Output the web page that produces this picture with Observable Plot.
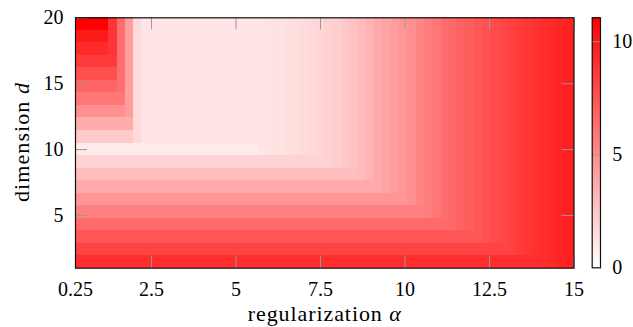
<!DOCTYPE html>
<html><head><meta charset="utf-8">
<script src="https://cdn.jsdelivr.net/npm/d3@7"></script>
<script src="https://cdn.jsdelivr.net/npm/@observablehq/plot@0.6"></script>
<style>
body{margin:0;background:#fff;}
#wrap{position:relative;width:633px;height:327px;}
#wrap svg{position:absolute;left:0;top:0;}
#wrap svg text, #wrap svg tspan{font-family:"Liberation Serif","Times New Roman",Tinos,"DejaVu Serif","Noto Serif",FreeSerif,serif !important;}
</style></head><body><div id="wrap"></div>
<script>
const alphas = [0.25,0.5,0.75,1,1.25,1.5,1.75,2,2.25,2.5,
 2.75,3,3.25,3.5,3.75,4,4.25,4.5,4.75,5,
 5.25,5.5,5.75,6,6.25,6.5,6.75,7,7.25,7.5,
 7.75,8,8.25,8.5,8.75,9,9.25,9.5,9.75,10,
 10.25,10.5,10.75,11,11.25,11.5,11.75,12,12.25,12.5,
 12.75,13,13.25,13.5,13.75,14,14.25,14.5,14.75,15];
const dims = [1,2,3,4,5,6,7,8,9,10,11,12,13,14,15,16,17,18,19,20];
// one row per dimension d (d = 1 first), one value per alpha
const values = [
[9.1,9.1,9.1,9.1,9.1,9.1,9.1,9.1,9.1,9.1, 9.1,9.1,9.1,9.1,9.1,9.1,9.1,9.1,9.1,9.1, 9.1,9.1,9.1,9.1,9.1,9.1,9.1,9.1,9.1,9.1, 9.1,9.1,9.1,9.1,9.1,9.1,9.1,9.1,9.1,9.1, 9.1,9.1,9.1,9.1,9.1,9.1,9.1,9.1,9.1,9.1, 9.1,9.1,9.1,9.1,9.1,9.1,9.15,9.3,9.5,9.7],
[8.2,8.2,8.2,8.2,8.2,8.2,8.2,8.2,8.2,8.2, 8.2,8.2,8.2,8.2,8.2,8.2,8.2,8.2,8.2,8.2, 8.2,8.2,8.2,8.2,8.2,8.2,8.2,8.2,8.2,8.2, 8.2,8.2,8.2,8.2,8.2,8.2,8.2,8.2,8.2,8.2, 8.2,8.2,8.2,8.2,8.2,8.2,8.2,8.2,8.2,8.2, 8.2,8.2,8.25,8.5,8.7,8.9,9.15,9.3,9.5,9.7],
[7.3,7.3,7.3,7.3,7.3,7.3,7.3,7.3,7.3,7.3, 7.3,7.3,7.3,7.3,7.3,7.3,7.3,7.3,7.3,7.3, 7.3,7.3,7.3,7.3,7.3,7.3,7.3,7.3,7.3,7.3, 7.3,7.3,7.3,7.3,7.3,7.3,7.3,7.3,7.3,7.3, 7.3,7.3,7.3,7.3,7.3,7.3,7.3,7.3,7.35,7.55, 7.8,8.0,8.25,8.5,8.7,8.9,9.15,9.3,9.5,9.7],
[6.4,6.4,6.4,6.4,6.4,6.4,6.4,6.4,6.4,6.4, 6.4,6.4,6.4,6.4,6.4,6.4,6.4,6.4,6.4,6.4, 6.4,6.4,6.4,6.4,6.4,6.4,6.4,6.4,6.4,6.4, 6.4,6.4,6.4,6.4,6.4,6.4,6.4,6.4,6.4,6.4, 6.4,6.4,6.4,6.4,6.4,6.55,6.8,7.05,7.35,7.55, 7.8,8.0,8.25,8.5,8.7,8.9,9.15,9.3,9.5,9.7],
[5.5,5.5,5.5,5.5,5.5,5.5,5.5,5.5,5.5,5.5, 5.5,5.5,5.5,5.5,5.5,5.5,5.5,5.5,5.5,5.5, 5.5,5.5,5.5,5.5,5.5,5.5,5.5,5.5,5.5,5.5, 5.5,5.5,5.5,5.5,5.5,5.5,5.5,5.5,5.5,5.5, 5.5,5.5,5.6,5.9,6.3,6.55,6.8,7.05,7.35,7.55, 7.8,8.0,8.25,8.5,8.7,8.9,9.15,9.3,9.5,9.7],
[4.6,4.6,4.6,4.6,4.6,4.6,4.6,4.6,4.6,4.6, 4.6,4.6,4.6,4.6,4.6,4.6,4.6,4.6,4.6,4.6, 4.6,4.6,4.6,4.6,4.6,4.6,4.6,4.6,4.6,4.6, 4.6,4.6,4.6,4.6,4.6,4.6,4.6,4.6,4.6,4.6, 4.9,5.3,5.6,5.9,6.3,6.55,6.8,7.05,7.35,7.55, 7.8,8.0,8.25,8.5,8.7,8.9,9.15,9.3,9.5,9.7],
[3.7,3.7,3.7,3.7,3.7,3.7,3.7,3.7,3.7,3.7, 3.7,3.7,3.7,3.7,3.7,3.7,3.7,3.7,3.7,3.7, 3.7,3.7,3.7,3.7,3.7,3.7,3.7,3.7,3.7,3.7, 3.7,3.7,3.7,3.7,3.7,3.7,3.7,4.0,4.3,4.6, 4.9,5.3,5.6,5.9,6.3,6.55,6.8,7.05,7.35,7.55, 7.8,8.0,8.25,8.5,8.7,8.9,9.15,9.3,9.5,9.7],
[2.8,2.8,2.8,2.8,2.8,2.8,2.8,2.8,2.8,2.8, 2.8,2.8,2.8,2.8,2.8,2.8,2.8,2.8,2.8,2.8, 2.8,2.8,2.8,2.8,2.8,2.8,2.8,2.8,2.8,2.8, 2.8,2.8,2.8,2.8,3.0,3.3,3.7,4.0,4.3,4.6, 4.9,5.3,5.6,5.9,6.3,6.55,6.8,7.05,7.35,7.55, 7.8,8.0,8.25,8.5,8.7,8.9,9.15,9.3,9.5,9.7],
[1.9,1.9,1.9,1.9,1.9,1.9,1.9,1.9,1.9,1.9, 1.9,1.9,1.9,1.9,1.9,1.9,1.9,1.9,1.9,1.9, 1.9,1.9,1.9,1.9,1.9,1.9,1.9,1.9,1.9,1.9, 1.95,2.1,2.4,2.7,3.0,3.3,3.7,4.0,4.3,4.6, 4.9,5.3,5.6,5.9,6.3,6.55,6.8,7.05,7.35,7.55, 7.8,8.0,8.25,8.5,8.7,8.9,9.15,9.3,9.5,9.7],
[0.95,0.95,0.95,0.95,0.95,0.95,0.95,0.95,0.95,0.95, 0.95,0.95,0.95,0.95,0.95,0.95,0.95,0.95,0.95,0.95, 0.95,0.95,1.12,1.15,1.25,1.35,1.45,1.55,1.65,1.8, 1.95,2.1,2.4,2.7,3.0,3.3,3.7,4.0,4.3,4.6, 4.9,5.3,5.6,5.9,6.3,6.55,6.8,7.05,7.35,7.55, 7.8,8.0,8.25,8.5,8.7,8.9,9.15,9.3,9.5,9.7],
[2.3,2.3,2.3,2.3,2.3,2.3,2.3,1.6,1.12,1.12, 1.12,1.12,1.12,1.12,1.12,1.12,1.12,1.12,1.12,1.12, 1.12,1.12,1.12,1.15,1.25,1.35,1.45,1.55,1.65,1.8, 1.95,2.1,2.4,2.7,3.0,3.3,3.7,4.0,4.3,4.6, 4.9,5.3,5.6,5.9,6.3,6.55,6.8,7.05,7.35,7.55, 7.8,8.0,8.25,8.5,8.7,8.9,9.15,9.3,9.5,9.7],
[3.6,3.6,3.6,3.6,3.6,3.6,3.6,1.6,1.12,1.12, 1.12,1.12,1.12,1.12,1.12,1.12,1.12,1.12,1.12,1.12, 1.12,1.12,1.12,1.15,1.25,1.35,1.45,1.55,1.65,1.8, 1.95,2.1,2.4,2.7,3.0,3.3,3.7,4.0,4.3,4.6, 4.9,5.3,5.6,5.9,6.3,6.55,6.8,7.05,7.35,7.55, 7.8,8.0,8.25,8.5,8.7,8.9,9.15,9.3,9.5,9.7],
[4.8,4.8,4.8,4.8,4.8,4.8,4.2,1.6,1.12,1.12, 1.12,1.12,1.12,1.12,1.12,1.12,1.12,1.12,1.12,1.12, 1.12,1.12,1.12,1.15,1.25,1.35,1.45,1.55,1.65,1.8, 1.95,2.1,2.4,2.7,3.0,3.3,3.7,4.0,4.3,4.6, 4.9,5.3,5.6,5.9,6.3,6.55,6.8,7.05,7.35,7.55, 7.8,8.0,8.25,8.5,8.7,8.9,9.15,9.3,9.5,9.7],
[5.9,5.9,5.9,5.9,5.9,5.9,4.2,1.6,1.12,1.12, 1.12,1.12,1.12,1.12,1.12,1.12,1.12,1.12,1.12,1.12, 1.12,1.12,1.12,1.15,1.25,1.35,1.45,1.55,1.65,1.8, 1.95,2.1,2.4,2.7,3.0,3.3,3.7,4.0,4.3,4.6, 4.9,5.3,5.6,5.9,6.3,6.55,6.8,7.05,7.35,7.55, 7.8,8.0,8.25,8.5,8.7,8.9,9.15,9.3,9.5,9.7],
[6.7,6.7,6.7,6.7,6.7,6.3,4.2,1.6,1.12,1.12, 1.12,1.12,1.12,1.12,1.12,1.12,1.12,1.12,1.12,1.12, 1.12,1.12,1.12,1.15,1.25,1.35,1.45,1.55,1.65,1.8, 1.95,2.1,2.4,2.7,3.0,3.3,3.7,4.0,4.3,4.6, 4.9,5.3,5.6,5.9,6.3,6.55,6.8,7.05,7.35,7.55, 7.8,8.0,8.25,8.5,8.7,8.9,9.15,9.3,9.5,9.7],
[7.6,7.6,7.6,7.6,7.6,6.3,4.2,1.6,1.12,1.12, 1.12,1.12,1.12,1.12,1.12,1.12,1.12,1.12,1.12,1.12, 1.12,1.12,1.12,1.15,1.25,1.35,1.45,1.55,1.65,1.8, 1.95,2.1,2.4,2.7,3.0,3.3,3.7,4.0,4.3,4.6, 4.9,5.3,5.6,5.9,6.3,6.55,6.8,7.05,7.35,7.55, 7.8,8.0,8.25,8.5,8.7,8.9,9.15,9.3,9.5,9.7],
[8.45,8.45,8.45,8.45,8.45,6.3,4.2,1.6,1.12,1.12, 1.12,1.12,1.12,1.12,1.12,1.12,1.12,1.12,1.12,1.12, 1.12,1.12,1.12,1.15,1.25,1.35,1.45,1.55,1.65,1.8, 1.95,2.1,2.4,2.7,3.0,3.3,3.7,4.0,4.3,4.6, 4.9,5.3,5.6,5.9,6.3,6.55,6.8,7.05,7.35,7.55, 7.8,8.0,8.25,8.5,8.7,8.9,9.15,9.3,9.5,9.7],
[9.2,9.2,9.2,9.2,8.8,6.3,4.2,1.6,1.12,1.12, 1.12,1.12,1.12,1.12,1.12,1.12,1.12,1.12,1.12,1.12, 1.12,1.12,1.12,1.15,1.25,1.35,1.45,1.55,1.65,1.8, 1.95,2.1,2.4,2.7,3.0,3.3,3.7,4.0,4.3,4.6, 4.9,5.3,5.6,5.9,6.3,6.55,6.8,7.05,7.35,7.55, 7.8,8.0,8.25,8.5,8.7,8.9,9.15,9.3,9.5,9.7],
[9.93,9.93,9.93,9.93,8.8,6.3,4.2,1.6,1.12,1.12, 1.12,1.12,1.12,1.12,1.12,1.12,1.12,1.12,1.12,1.12, 1.12,1.12,1.12,1.15,1.25,1.35,1.45,1.55,1.65,1.8, 1.95,2.1,2.4,2.7,3.0,3.3,3.7,4.0,4.3,4.6, 4.9,5.3,5.6,5.9,6.3,6.55,6.8,7.05,7.35,7.55, 7.8,8.0,8.25,8.5,8.7,8.9,9.15,9.3,9.5,9.7],
[11.06,11.06,11.06,11.06,8.8,6.3,4.2,1.6,1.12,1.12, 1.12,1.12,1.12,1.12,1.12,1.12,1.12,1.12,1.12,1.12, 1.12,1.12,1.12,1.15,1.25,1.35,1.45,1.55,1.65,1.8, 1.95,2.1,2.4,2.7,3.0,3.3,3.7,4.0,4.3,4.6, 4.9,5.3,5.6,5.9,6.3,6.55,6.8,7.05,7.35,7.55, 7.8,8.0,8.25,8.5,8.7,8.9,9.15,9.3,9.5,9.7]
];
const xTicks = [0.25, 2.5, 5, 7.5, 10, 12.5, 15];
const yTicks = [5, 10, 15, 20];
const cbTicks = [0, 5, 10];
const colorMax = 11.06;

const W = 633, H = 327;
const mL = 75, mR = 59.5, mT = 17.3, mB = 59.3;
const innerW = W - mL - mR, innerH = H - mT - mB;

const nx = alphas.length, ny = dims.length;
const ax0 = alphas[0], ax1 = alphas[nx - 1], dy0 = dims[0], dy1 = dims[ny - 1];
const stepX = (ax1 - ax0) / nx, stepY = (dy1 - dy0) / ny;
const cells = [];
dims.forEach((d, r) => alphas.forEach((a, c) => cells.push({
  x1: ax0 + c * stepX, x2: ax0 + (c + 1) * stepX,
  y1: dy0 + r * stepY, y2: dy0 + (r + 1) * stepY,
  v: values[r][c]
})));

const colorOpts = {type: "linear", domain: [0, colorMax], range: ["white", "red"], interpolate: d3.interpolateRgb};
const style = {fontSize: "20px", color: "black", background: "transparent", overflow: "visible"};

const main = Plot.plot({
  width: W, height: H,
  marginLeft: mL, marginRight: mR, marginTop: mT, marginBottom: mB,
  style,
  x: {domain: [ax0, ax1]},
  y: {domain: [dy0, dy1]},
  color: colorOpts,
  marks: [
    Plot.rect(cells, {x1: "x1", x2: "x2", y1: "y1", y2: "y2", fill: "v", shapeRendering: "crispEdges"}),
    Plot.tickX(xTicks, {x: d => d, stroke: "#999", insetTop: innerH - 12}),
    Plot.tickX(xTicks, {x: d => d, stroke: "#999", insetBottom: innerH - 12}),
    Plot.tickY(yTicks, {y: d => d, stroke: "#999", insetRight: innerW - 12}),
    Plot.tickY(yTicks, {y: d => d, stroke: "#999", insetLeft: innerW - 12}),
    Plot.frame({stroke: "#111", strokeWidth: 1.2}),
    Plot.axisX({ticks: xTicks, tickSize: 0, tickPadding: 14, tickFormat: d => String(d), label: null, fontSize: 20}),
    Plot.axisY({ticks: yTicks, tickSize: 0, tickPadding: 12, tickFormat: d => String(d), label: null, fontSize: 20})
  ]
});

const cbN = 220;
const cbSteps = d3.range(cbN).map(i => i * colorMax / cbN);
const bar = Plot.plot({
  width: W, height: H,
  marginLeft: 591.7, marginRight: W - 600, marginTop: mT, marginBottom: H - 267.3,
  style,
  y: {domain: [0, colorMax]},
  color: colorOpts,
  marks: [
    Plot.rect(cbSteps, {y1: d => d, y2: d => d + colorMax / cbN, fill: d => d + colorMax / (2 * cbN), shapeRendering: "crispEdges"}),
    Plot.ruleY(cbTicks.filter(t => t > 0), {stroke: "#999"}),
    Plot.frame({stroke: "#111", strokeWidth: 1.2}),
    Plot.axisY({anchor: "right", ticks: cbTicks, tickSize: 0, tickPadding: 11.7, tickFormat: d => String(d), label: null, fontSize: 20})
  ]
});

const wrap = document.getElementById("wrap");
wrap.appendChild(main);
wrap.appendChild(bar);

const svg = d3.select(main);
const xl = svg.append("text")
  .attr("x", mL + innerW / 2).attr("y", 321)
  .attr("text-anchor", "middle")
  .attr("font-size", 22).attr("fill", "black")
  .attr("textLength", 153).attr("lengthAdjust", "spacing");
xl.append("tspan").text("regularization ");
xl.append("tspan").attr("font-style", "italic").text("α");

const yl = svg.append("text")
  .attr("transform", `translate(29,${mT + innerH / 2}) rotate(-90)`)
  .attr("text-anchor", "middle")
  .attr("font-size", 22).attr("fill", "black")
  .attr("textLength", 119).attr("lengthAdjust", "spacing");
yl.append("tspan").text("dimension ");
yl.append("tspan").attr("font-style", "italic").text("d");
</script>
</body></html>
